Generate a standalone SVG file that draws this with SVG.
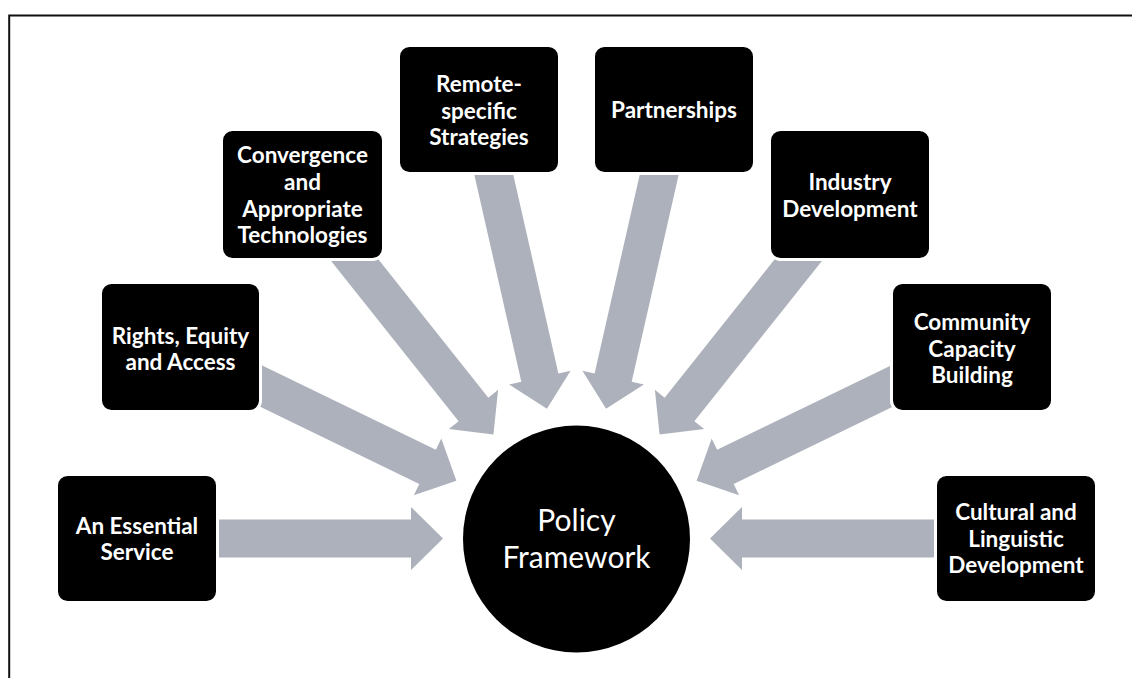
<svg xmlns="http://www.w3.org/2000/svg" width="1132" height="678" viewBox="0 0 1132 678">
<style>
.frame{fill:none;stroke:#111;stroke-width:2}
.arrow{fill:#adb1bb}
.box{fill:#000;stroke:#fff;stroke-width:3}
.lbl{font-family:Lato,"Liberation Sans",sans-serif;font-weight:bold;font-size:22.5px;fill:#fff;text-anchor:middle}
.hub{fill:#000}
.hubtxt{font-family:Lato,"Liberation Sans",sans-serif;font-size:30px;fill:#fff;text-anchor:middle}
</style>
<rect width="1132" height="678" fill="#fff"/>
<path class="frame" d="M9.2,680 V15.5 H1134"/>
<g id="connectors">
<polygon class="arrow" points="137,519.5 411,519.5 411,507 443,538.5 411,570 411,557.5 137,557.5"/>
<polygon class="arrow" points="1016,519.5 742,519.5 742,507 710,538.5 742,570 742,557.5 1016,557.5"/>
<polygon class="arrow" points="172.21,364.10 419.29,483.89 413.84,495.13 456.37,480.75 441.32,438.45 435.87,449.69 188.79,329.90"/>
<polygon class="arrow" points="980.79,364.10 733.71,483.89 739.16,495.13 696.63,480.75 711.68,438.45 717.13,449.69 964.21,329.90"/>
<polygon class="arrow" points="287.63,206.33 458.61,421.31 448.83,429.09 493.40,434.52 498.13,389.87 488.35,397.65 317.37,182.67"/>
<polygon class="arrow" points="865.37,206.33 694.39,421.31 704.17,429.09 659.60,434.52 654.87,389.87 664.65,397.65 835.63,182.67"/>
<polygon class="arrow" points="460.47,113.71 521.33,381.81 509.14,384.57 546.94,408.81 570.58,370.63 558.39,373.39 497.53,105.29"/>
<polygon class="arrow" points="692.53,113.71 631.67,381.81 643.86,384.57 606.06,408.81 582.42,370.63 594.61,373.39 655.47,105.29"/>
</g>
<g id="node-essential">
<rect class="box" x="56.5" y="474.5" width="161" height="128" rx="11"/>
<text class="lbl" x="137" y="533.5">An Essential</text>
<text class="lbl" x="137" y="560">Service</text>
</g>
<g id="node-rights">
<rect class="box" x="100.5" y="282.5" width="160" height="129" rx="11"/>
<text class="lbl" x="180.5" y="343.5">Rights, Equity</text>
<text class="lbl" x="180.5" y="370">and Access</text>
</g>
<g id="node-convergence">
<rect class="box" x="221.5" y="129.5" width="162" height="130" rx="11"/>
<text class="lbl" x="302.5" y="163">Convergence</text>
<text class="lbl" x="302.5" y="190">and</text>
<text class="lbl" x="302.5" y="216.5">Appropriate</text>
<text class="lbl" x="302.5" y="243">Technologies</text>
</g>
<g id="node-remote">
<rect class="box" x="398.5" y="45.5" width="161" height="128" rx="11"/>
<text class="lbl" x="479" y="92">Remote-</text>
<text class="lbl" x="479" y="118.5">specific</text>
<text class="lbl" x="479" y="145">Strategies</text>
</g>
<g id="node-partnerships">
<rect class="box" x="593.5" y="45.5" width="161" height="128" rx="11"/>
<text class="lbl" x="674" y="118">Partnerships</text>
</g>
<g id="node-industry">
<rect class="box" x="769.5" y="129.5" width="161" height="130" rx="11"/>
<text class="lbl" x="850" y="190">Industry</text>
<text class="lbl" x="850" y="216.5">Development</text>
</g>
<g id="node-community">
<rect class="box" x="891.5" y="282.5" width="161" height="129" rx="11"/>
<text class="lbl" x="972" y="330">Community</text>
<text class="lbl" x="972" y="356.5">Capacity</text>
<text class="lbl" x="972" y="383">Building</text>
</g>
<g id="node-cultural">
<rect class="box" x="935.5" y="474.5" width="161" height="128" rx="11"/>
<text class="lbl" x="1016" y="520">Cultural and</text>
<text class="lbl" x="1016" y="546.5">Linguistic</text>
<text class="lbl" x="1016" y="573">Development</text>
</g>
<g id="node-policy">
<circle class="hub" cx="576.5" cy="539" r="113.5"/>
<text class="hubtxt" x="576.5" y="530.5">Policy</text>
<text class="hubtxt" x="576.5" y="567.5">Framework</text>
</g>
</svg>
